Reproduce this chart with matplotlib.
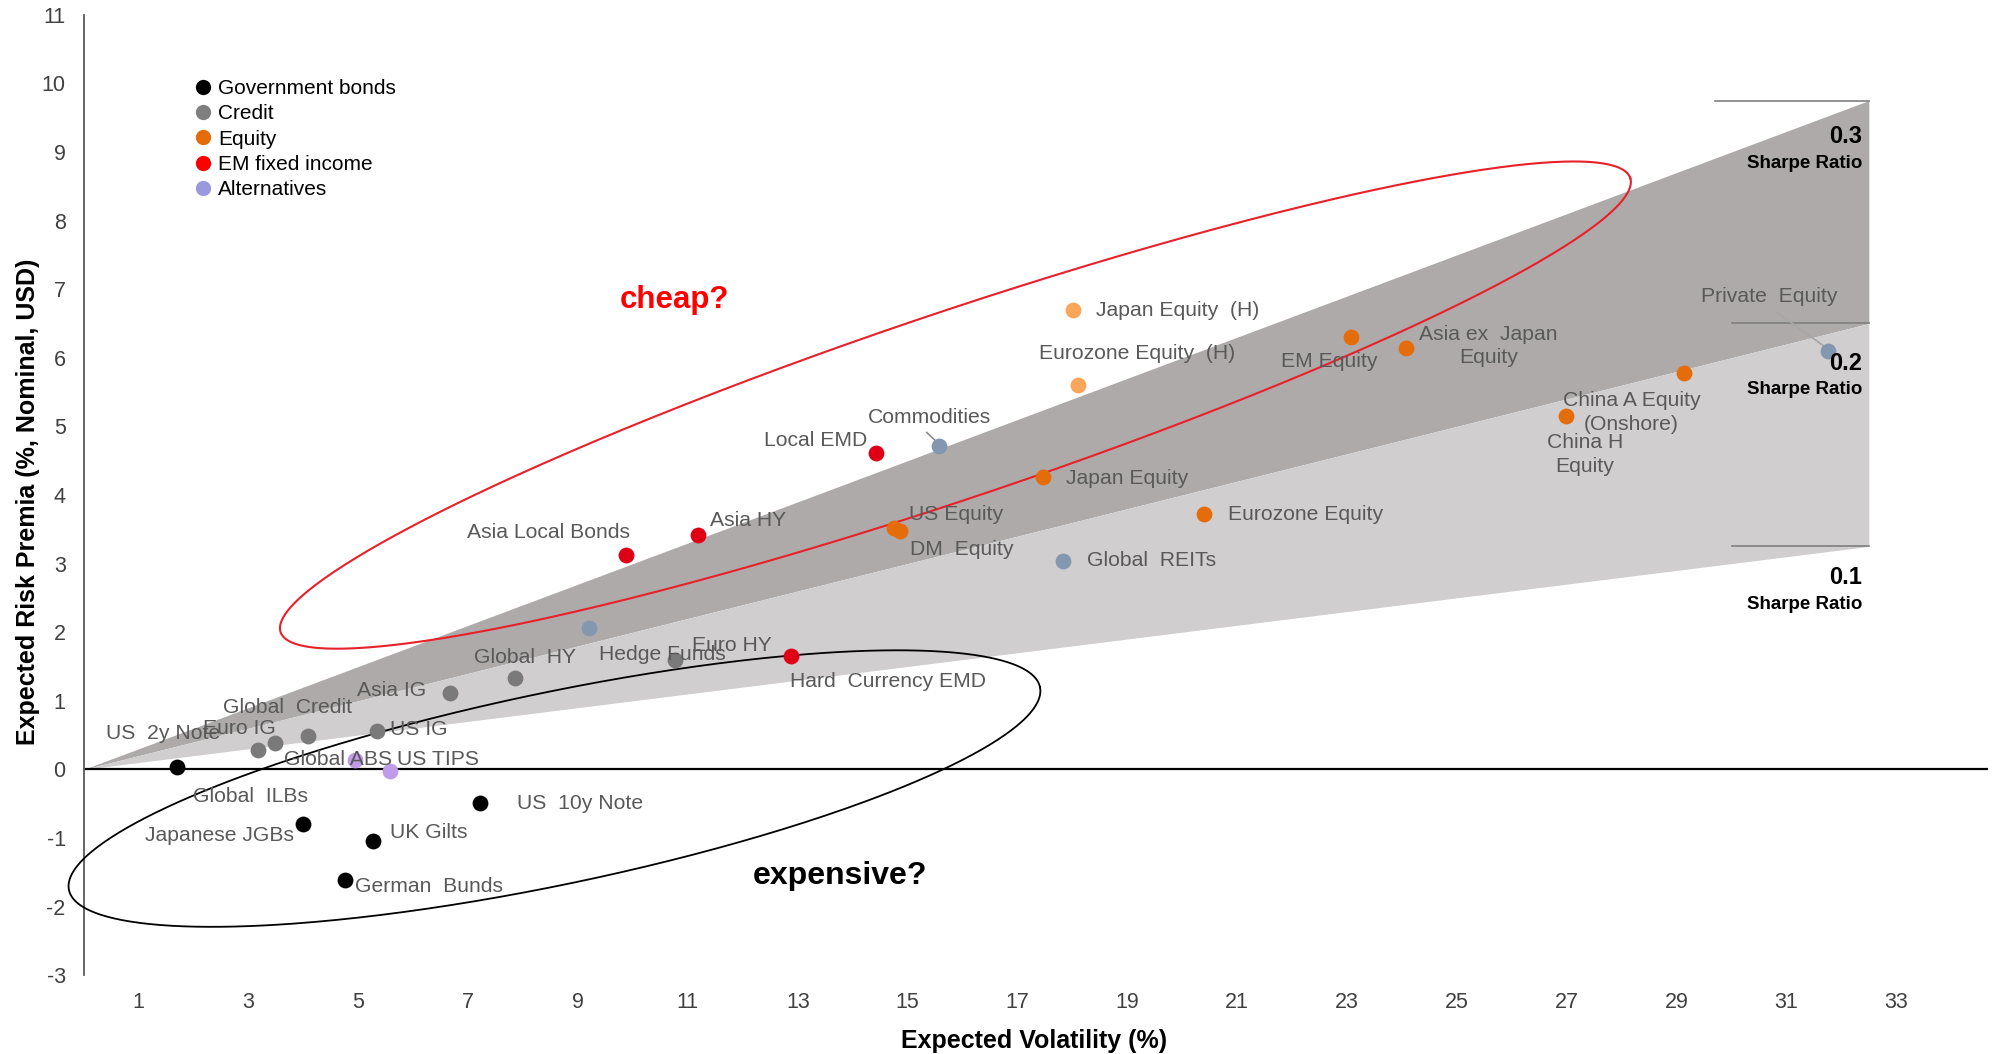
import numpy as np
import matplotlib.pyplot as plt
from matplotlib.lines import Line2D

plt.rcParams['font.family'] = ['Liberation Sans', 'DejaVu Sans']
plt.rcParams['axes.unicode_minus'] = False

# expected volatility (%) / expected risk premia (%, nominal, USD)
gov_names = ["US 2y Note", "Japanese JGBs", "UK Gilts", "German Bunds", "US 10y Note"]
gov_vol = [1.69, 4.00, 5.27, 4.76, 7.21]
gov_prem = [0.04, -0.80, -1.04, -1.61, -0.49]

credit_names = ["Euro IG", "Global ILBs", "Global Credit", "US IG", "Asia IG", "Global HY", "Euro HY"]
credit_vol = [3.18, 3.49, 4.08, 5.33, 6.67, 7.86, 10.77]
credit_prem = [0.28, 0.38, 0.49, 0.56, 1.12, 1.33, 1.59]

equity_names = ["US Equity", "DM Equity", "Japan Equity", "Eurozone Equity", "EM Equity",
                "Asia ex Japan Equity", "China H Equity", "China A Equity (Onshore)"]
equity_vol = [14.75, 14.87, 17.46, 20.39, 23.07, 24.07, 26.98, 29.13]
equity_prem = [3.52, 3.47, 4.26, 3.72, 6.30, 6.14, 5.15, 5.78]

hedged_names = ["Japan Equity (H)", "Eurozone Equity (H)"]
hedged_vol = [18.01, 18.10]
hedged_prem = [6.69, 5.60]

emfi_names = ["Asia Local Bonds", "Asia HY", "Hard Currency EMD", "Local EMD"]
emfi_vol = [9.87, 11.19, 12.88, 14.43]
emfi_prem = [3.13, 3.41, 1.65, 4.61]

alt_names = ["Global ABS", "US TIPS"]
alt_vol = [4.93, 5.58]
alt_prem = [0.14, -0.03]

real_names = ["Hedge Funds", "Commodities", "Global REITs", "Private Equity"]
real_vol = [9.20, 15.58, 17.83, 31.75]
real_prem = [2.06, 4.71, 3.04, 6.10]

sharpe_levels = [0.1, 0.2, 0.3]
cone_end = 32.5

legend_labels = ["Government bonds", "Credit", "Equity", "EM fixed income", "Alternatives"]
legend_colors = ["#000000", "#7f7f7f", "#e46c0a", "#ff0000", "#9b99dd"]

# label placement: text, x, y, horizontal alignment
labels = {
    "US 2y Note": ("US  2y Note", 0.40, 0.52, "left"),
    "Japanese JGBs": ("Japanese JGBs", 1.11, -0.97, "left"),
    "UK Gilts": ("UK Gilts", 5.58, -0.92, "left"),
    "German Bunds": ("German  Bunds", 4.93, -1.71, "left"),
    "US 10y Note": ("US  10y Note", 7.88, -0.50, "left"),
    "Euro IG": ("Euro IG", 2.17, 0.60, "left"),
    "Global ILBs": ("Global  ILBs", 1.98, -0.39, "left"),
    "Global Credit": ("Global  Credit", 2.53, 0.90, "left"),
    "US IG": ("US IG", 5.58, 0.58, "left"),
    "Asia IG": ("Asia IG", 4.97, 1.15, "left"),
    "Global HY": ("Global  HY", 7.10, 1.63, "left"),
    "Euro HY": ("Euro HY", 11.07, 1.80, "left"),
    "US Equity": ("US Equity", 15.03, 3.71, "left"),
    "DM Equity": ("DM  Equity", 15.05, 3.21, "left"),
    "Japan Equity": ("Japan Equity", 17.89, 4.24, "left"),
    "Eurozone Equity": ("Eurozone Equity", 20.83, 3.71, "left"),
    "EM Equity": ("EM Equity", 21.80, 5.95, "left"),
    "Asia ex Japan Equity": ("Asia ex  Japan\nEquity", 25.57, 6.17, "center"),
    "China H Equity": ("China H\nEquity", 27.33, 4.59, "center"),
    "China A Equity (Onshore)": ("China A Equity\n(Onshore)", 28.18, 5.20, "center"),
    "Japan Equity (H)": ("Japan Equity  (H)", 18.43, 6.69, "left"),
    "Eurozone Equity (H)": ("Eurozone Equity  (H)", 17.39, 6.06, "left"),
    "Asia Local Bonds": ("Asia Local Bonds", 6.98, 3.45, "left"),
    "Asia HY": ("Asia HY", 11.40, 3.63, "left"),
    "Hard Currency EMD": ("Hard  Currency EMD", 12.85, 1.28, "left"),
    "Local EMD": ("Local EMD", 12.39, 4.80, "left"),
    "Global ABS": ("Global ABS", 3.64, 0.15, "left"),
    "US TIPS": ("US TIPS", 5.70, 0.15, "left"),
    "Hedge Funds": ("Hedge Funds", 9.39, 1.67, "left"),
    "Commodities": ("Commodities", 14.27, 5.13, "left"),
    "Global REITs": ("Global  REITs", 18.27, 3.04, "left"),
    "Private Equity": ("Private  Equity", 30.68, 6.90, "center"),
}

fig = plt.figure(figsize=(19.94, 10.54), dpi=100)
ax = fig.add_axes([0.0420, 0.0748, 0.9550, 0.9112])
ax.set_xlim(0, 34.67)
ax.set_ylim(-3, 11)

# Sharpe ratio cones
xs = np.array([0, cone_end])
ax.fill_between(xs, sharpe_levels[1] * xs, sharpe_levels[2] * xs, color="#aeaaaa", lw=0, zorder=1)
ax.fill_between(xs, sharpe_levels[0] * xs, sharpe_levels[1] * xs, color="#d0cece", lw=0, zorder=1)
tick_starts = [30.0, 30.0, 29.7]
for s, x0 in zip(sharpe_levels, tick_starts):
    ax.plot([x0, cone_end], [s * cone_end] * 2, color="#7f7f7f", lw=1.2, zorder=2)
sharpe_text_y = {0.3: (9.22, 8.83), 0.2: (5.92, 5.53), 0.1: (2.79, 2.40)}
for s in sharpe_levels:
    y1, y2 = sharpe_text_y[s]
    ax.text(32.38, y1, f"{s:.1f}", ha="right", va="center", fontsize=17, fontweight="bold", zorder=6)
    ax.text(32.38, y2, "Sharpe Ratio", ha="right", va="center", fontsize=13.5, fontweight="bold", zorder=6)

ax.axhline(0, color="black", lw=1.6, zorder=2)


def draw_ellipse(center, a_px, b_px, angle, **kw):
    cx, cy = ax.transData.transform(center)
    t = np.linspace(0, 2 * np.pi, 500)
    th = np.radians(angle)
    px = cx + a_px * np.cos(t) * np.cos(th) - b_px * np.sin(t) * np.sin(th)
    py = cy + a_px * np.cos(t) * np.sin(th) + b_px * np.sin(t) * np.cos(th)
    pts = ax.transData.inverted().transform(np.column_stack([px, py]))
    ax.plot(pts[:, 0], pts[:, 1], clip_on=False, **kw)


draw_ellipse((15.87, 5.31), 712, 93, 18.6, color="#e8202a", lw=1.5, zorder=3)
draw_ellipse((8.57, -0.28), 496, 96, 11.8, color="black", lw=1.3, zorder=3)

groups = [
    (gov_names, gov_vol, gov_prem, "#000000"),
    (credit_names, credit_vol, credit_prem, "#7a7a7a"),
    (equity_names, equity_vol, equity_prem, "#e46c0a"),
    (hedged_names, hedged_vol, hedged_prem, "#f9a55a"),
    (emfi_names, emfi_vol, emfi_prem, "#e00016"),
    (alt_names, alt_vol, alt_prem, "#bf9be8"),
    (real_names, real_vol, real_prem, "#8497b0"),
]
for names, vol, prem, col in groups:
    ax.scatter(vol, prem, s=130, color=col, lw=0, zorder=4)
    for n in names:
        txt, lx, ly, ha = labels[n]
        ax.text(lx, ly, txt, ha=ha, va="center", fontsize=15.2, color="#595959",
                linespacing=1.3, zorder=5)

# leader lines
ax.plot([15.35, 15.56], [4.91, 4.75], color="#8c8c8c", lw=1.2, zorder=3)
ax.plot([30.83, 31.70], [6.66, 6.16], color="#a6a6a6", lw=1.2, zorder=3)

ax.text(10.75, 6.84, "cheap?", color="#ff0000", fontsize=22.5, fontweight="bold",
        ha="center", va="center", zorder=5)
ax.text(13.76, -1.56, "expensive?", color="black", fontsize=23, fontweight="bold",
        ha="center", va="center", zorder=5)

handles = [Line2D([], [], ls="", marker="o", markersize=11, color=c, mec="none")
           for c in legend_colors]
ax.legend(handles, legend_labels, loc="upper left", bbox_to_anchor=(0.058, 0.933),
          frameon=False, fontsize=15, handlelength=0.8, handletextpad=0.35,
          labelspacing=0.30, borderpad=0, borderaxespad=0)

for side in ["top", "right", "bottom"]:
    ax.spines[side].set_visible(False)
ax.spines["left"].set_color("#595959")
ax.spines["left"].set_linewidth(1.3)

ax.set_xticks(range(1, 34, 2))
ax.set_yticks(range(-3, 12))
ax.tick_params(axis="both", length=0, labelsize=15.5, labelcolor="#404040")
ax.tick_params(axis="x", pad=12)
ax.tick_params(axis="y", pad=13)

ax.set_xlabel("Expected Volatility (%)", fontsize=18, fontweight="bold")
ax.set_ylabel("Expected Risk Premia (%, Nominal, USD)", fontsize=18, fontweight="bold")
ax.xaxis.set_label_coords(0.499, -0.056)
ax.yaxis.set_label_coords(-0.023, 0.493)

fig.savefig("out.png", dpi=100)
